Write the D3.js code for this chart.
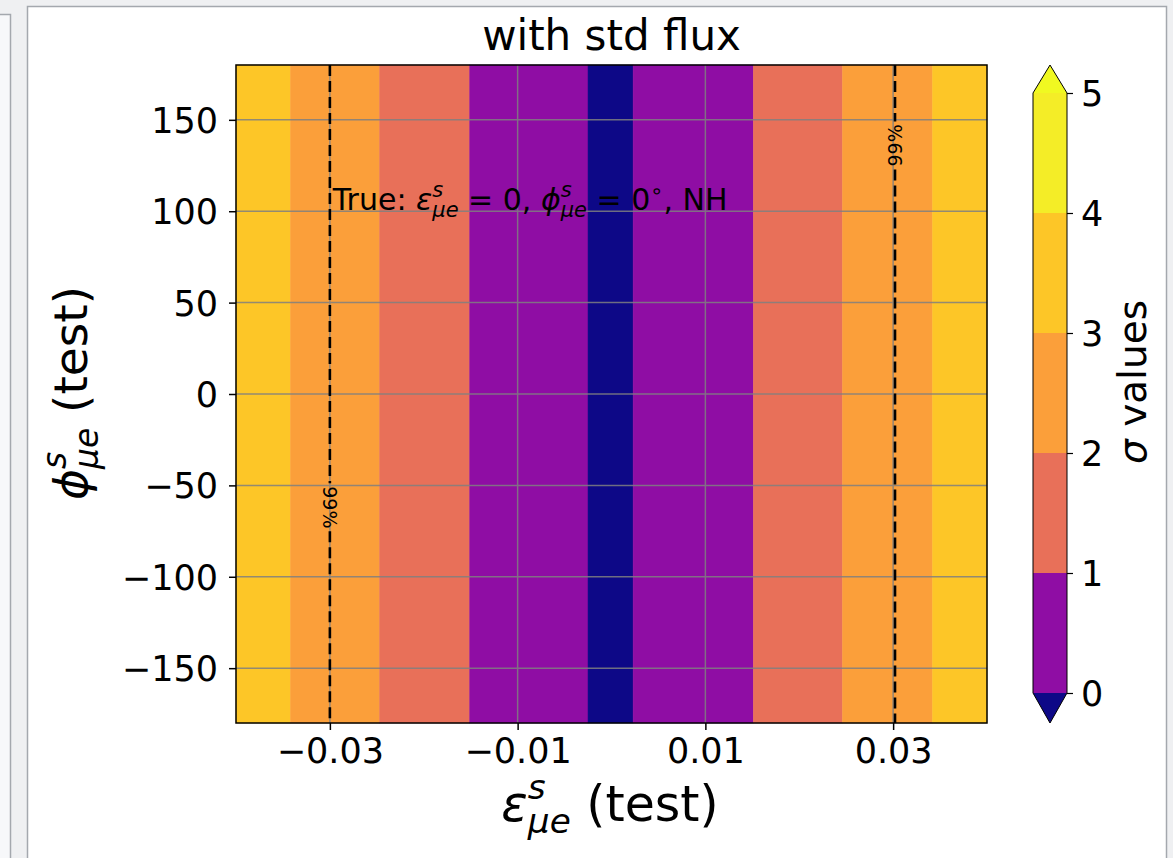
<!DOCTYPE html>
<html>
<head>
<meta charset="utf-8">
<script src="https://cdn.jsdelivr.net/npm/d3@7"></script>
<style>
html, body { margin: 0; padding: 0; background: #eff0f2; overflow: hidden; }
svg { display: block; font-family: "DejaVu Sans", sans-serif; }
</style>
</head>
<body>
<svg id="chart" width="1173" height="858"></svg>
<script>
// band edges along eps (test); sigma does not depend on phi
const epsEdges = [-0.04, -0.0342, -0.0247, -0.0151, -0.0025, 0.0023, 0.0151, 0.0246, 0.0342, 0.04];
// sigma value inside each band
const bandSigma = [3.5, 2.5, 1.5, 0.5, -0.5, 0.5, 1.5, 2.5, 3.5];
// contour levels + position on the plasma map (under, 0-1 ... 4-5, over)
const sigmaLevels = [0, 1, 2, 3, 4, 5];
const plasmaPos = [0, 0.3, 0.64, 0.78, 0.88, 0.97, 1];
const xTicks = [-0.03, -0.01, 0.01, 0.03];
const yTicks = [-150, -100, -50, 0, 50, 100, 150];
// 99% contour lines: eps position, label phi, label rotation
const clEps = [-0.03, 0.0302];
const clPhi = [-62, 136];
const clRot = [90, -90];
const clText = "99%";

const svg = d3.select("#chart");

// window frames around the figure
svg.append("rect").attr("x", -5).attr("y", 14.5).attr("width", 15.5).attr("height", 900)
    .attr("fill", "#f7f8fa").attr("stroke", "#a4a8ae").attr("stroke-width", 1.5);
svg.append("rect").attr("x", 27.5).attr("y", 6.5).attr("width", 1139).attr("height", 860)
    .attr("fill", "#fff").attr("stroke", "#a4a8ae").attr("stroke-width", 1.5);

const x = d3.scaleLinear().domain([-0.04, 0.04]).range([236, 987]);
const y = d3.scaleLinear().domain([-180, 180]).range([723, 65]);
const color = d3.scaleThreshold().domain(sigmaLevels).range(plasmaPos.map(d3.interpolatePlasma));

// filled bands
svg.append("g").selectAll("rect")
    .data(bandSigma)
    .join("rect")
    .attr("x", (d, i) => x(epsEdges[i]))
    .attr("width", (d, i) => x(epsEdges[i + 1]) - x(epsEdges[i]))
    .attr("y", y(180))
    .attr("height", y(-180) - y(180))
    .attr("fill", d => color(d))
    .attr("stroke", d => color(d))
    .attr("stroke-width", 0.5);

// grid
const grid = svg.append("g").attr("stroke", "#808080").attr("stroke-width", 1.5).attr("opacity", 0.85);
grid.selectAll(".gx").data(xTicks).join("line")
    .attr("x1", d => x(d)).attr("x2", d => x(d)).attr("y1", y(180)).attr("y2", y(-180));
grid.selectAll(".gy").data(yTicks).join("line")
    .attr("y1", d => y(d)).attr("y2", d => y(d)).attr("x1", x(-0.04)).attr("x2", x(0.04));

// 99% lines with inline labels
const gapHalf = 24;
clEps.forEach((e, i) => {
    const cx = x(e), cy = y(clPhi[i]);
    [[y(180), cy - gapHalf], [cy + gapHalf, y(-180)]].forEach(seg => {
        svg.append("line").attr("x1", cx).attr("x2", cx).attr("y1", seg[0]).attr("y2", seg[1])
            .attr("stroke", "#000").attr("stroke-width", 2.6).attr("stroke-dasharray", "11,5");
    });
    svg.append("text")
        .attr("transform", `translate(${cx},${cy}) rotate(${clRot[i]})`)
        .attr("text-anchor", "middle").attr("dy", "0.36em")
        .attr("font-size", 19).text(clText);
});

// frame
svg.append("rect").attr("x", x(-0.04)).attr("y", y(180))
    .attr("width", x(0.04) - x(-0.04)).attr("height", y(-180) - y(180))
    .attr("fill", "none").attr("stroke", "#000").attr("stroke-width", 1.5);

// axes
const fmt = d3.format(".2f");
const xAxis = svg.append("g").attr("transform", `translate(0,${y(-180)})`)
    .call(d3.axisBottom(x).tickValues(xTicks).tickFormat(fmt).tickSize(7).tickPadding(8));
const yAxis = svg.append("g").attr("transform", `translate(${x(-0.04)},0)`)
    .call(d3.axisLeft(y).tickValues(yTicks).tickFormat(d3.format("d")).tickSize(7).tickPadding(11));
[xAxis, yAxis].forEach(a => {
    a.select(".domain").remove();
    a.selectAll(".tick line").attr("stroke", "#000").attr("stroke-width", 1.5);
    a.selectAll(".tick text").attr("font-size", 35).attr("font-family", "DejaVu Sans").attr("fill", "#000");
});
xAxis.selectAll(".tick text").attr("dy", "0.71em");
yAxis.selectAll(".tick text").attr("dy", "0.36em");

// small mathtext helper: pieces are plain strings or {b, sup, sub}
function measure(str, size) {
    const t = svg.append("text").attr("font-size", size).attr("font-style", "italic").text(str);
    const w = t.node().getComputedTextLength();
    t.remove();
    return w;
}
function mathText(parent, pieces, size) {
    const text = parent.append("text").attr("font-size", size).attr("fill", "#000");
    let shift = 0, padDx = 0;
    const ss = size * 0.7;
    pieces.forEach(p => {
        if (typeof p === "string") {
            text.append("tspan").attr("dy", -shift).attr("dx", padDx).text(p);
            shift = 0; padDx = 0;
        } else if (p.deg) {
            text.append("tspan").attr("font-size", ss).attr("dy", -size * 0.42 - shift).text(p.deg);
            shift = -size * 0.42;
        } else {
            const wSup = measure(p.sup, ss), wSub = measure(p.sub, ss);
            text.append("tspan").attr("font-style", "italic").attr("dy", -shift).attr("dx", padDx).text(p.b);
            text.append("tspan").attr("font-style", "italic").attr("font-size", ss)
                .attr("dy", -size * 0.45).text(p.sup);
            text.append("tspan").attr("font-style", "italic").attr("font-size", ss)
                .attr("dx", -wSup).attr("dy", size * 0.45 + size * 0.24).text(p.sub);
            shift = size * 0.24;
            padDx = Math.max(0, wSup - wSub);
        }
    });
    return text;
}
function centerText(text) {
    const bb = text.node().getBBox();
    text.attr("x", -bb.width / 2 - bb.x + (+text.attr("x") || 0));
}

// title
svg.append("text").attr("x", 611.5).attr("y", 50).attr("text-anchor", "middle")
    .attr("font-size", 42).text("with std flux");

// annotation
const ann = svg.append("g").attr("transform", `translate(${x(-0.0297)},${y(100) - 1})`);
mathText(ann, ["True: ", {b: "ε", sup: "s", sub: "μe"}, " = 0, ", {b: "ϕ", sup: "s", sub: "μe"},
    " = 0", {deg: "∘"}, ", NH"], 30);

// x label
const xl = svg.append("g").attr("transform", "translate(610,821)");
centerText(mathText(xl, [{b: "ε", sup: "s", sub: "μe"}, "  (test)"], 49));

// y label
const yl = svg.append("g").attr("transform", "translate(87,393) rotate(-90)");
centerText(mathText(yl, [{b: "ϕ", sup: "s", sub: "μe"}, "  (test)"], 47));

// colorbar
const cbX0 = 1033, cbX1 = 1067;
const cbY = d3.scaleLinear().domain([0, 5]).range([693, 93]);
const cb = svg.append("g");
cb.selectAll("rect").data(d3.range(sigmaLevels.length - 1)).join("rect")
    .attr("x", cbX0).attr("width", cbX1 - cbX0)
    .attr("y", i => cbY(sigmaLevels[i + 1])).attr("height", i => cbY(sigmaLevels[i]) - cbY(sigmaLevels[i + 1]))
    .attr("fill", i => color(sigmaLevels[i] + 0.5));
const cm = (cbX0 + cbX1) / 2;
cb.append("path").attr("d", `M${cbX0},${cbY(5)}L${cm},65L${cbX1},${cbY(5)}Z`).attr("fill", color(5.5));
cb.append("path").attr("d", `M${cbX0},${cbY(0)}L${cm},723L${cbX1},${cbY(0)}Z`).attr("fill", color(-0.5));
cb.append("path")
    .attr("d", `M${cbX0},${cbY(5)}L${cm},65L${cbX1},${cbY(5)}L${cbX1},${cbY(0)}L${cm},723L${cbX0},${cbY(0)}Z`)
    .attr("fill", "none").attr("stroke", "#000").attr("stroke-width", 1);
const cbAxis = svg.append("g").attr("transform", `translate(${cbX1},0)`)
    .call(d3.axisRight(cbY).tickValues(sigmaLevels).tickFormat(d3.format("d")).tickSize(6).tickPadding(8));
cbAxis.select(".domain").remove();
cbAxis.selectAll(".tick line").attr("stroke", "#000").attr("stroke-width", 1.2);
cbAxis.selectAll(".tick text").attr("font-size", 35).attr("font-family", "DejaVu Sans").attr("fill", "#000").attr("dy", "0.36em");

const cbl = svg.append("g").attr("transform", "translate(1146,382) rotate(-90)");
const cblText = cbl.append("text").attr("font-size", 39).attr("text-anchor", "middle");
cblText.append("tspan").attr("font-style", "italic").text("σ");
cblText.append("tspan").text(" values");
</script>
</body>
</html>
